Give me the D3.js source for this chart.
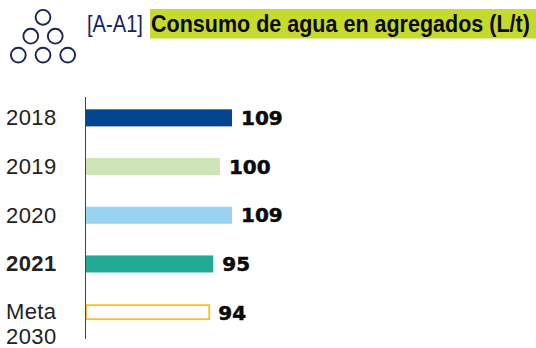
<!DOCTYPE html>
<html>
<head>
<meta charset="utf-8">
<script src="https://cdn.jsdelivr.net/npm/d3@7"></script>
<style>
  html, body { margin: 0; padding: 0; background: #fff; }
  svg { display: block; }
</style>
</head>
<body>
<div id="chart"></div>
<script>
var categories = ["2018", "2019", "2020", "2021", "Meta 2030"];
var values = [109, 100, 109, 95, 94];
// the target bar is drawn shorter in the picture than its 94 label
var barLengths = [109, 100, 109, 95, 92];
var barColors = ["#03468f", "#d0e5b7", "#9ad2f2", "#21ab97", "#ffffff"];
var titleCode = "[A-A1]";
var titleText = "Consumo de agua en agregados (L/t)";
var iconRows = [1, 2, 3];

var width = 536, height = 348;
var svg = d3.select("#chart").append("svg")
    .attr("width", width)
    .attr("height", height);

// squeeze a header text to the width it has in the picture
function fitWidth(sel, xPos, yPos, w) {
  var k = w / sel.node().getComputedTextLength();
  sel.attr("transform", "translate(" + xPos + "," + yPos + ") scale(" + k + ",1)");
}

// header icon
var navy = "#16245c";
iconRows.forEach(function (n, r) {
  d3.range(n).forEach(function (i) {
    svg.append("circle")
      .attr("cx", 43 + (i - (n - 1) / 2) * (r == 1 ? 24.5 : 24.7))
      .attr("cy", 17.3 + r * 18.9)
      .attr("r", 7.4)
      .attr("fill", "none")
      .attr("stroke", navy)
      .attr("stroke-width", 1.9);
  });
});

var code = svg.append("text")
  .attr("font-family", "'Liberation Sans'")
  .attr("font-size", 23)
  .attr("fill", navy)
  .text(titleCode);
fitWidth(code, 87, 32, 56);

svg.append("rect")
  .attr("x", 150).attr("y", 9)
  .attr("width", 386).attr("height", 29.5)
  .attr("fill", "#c6d92d");

var title = svg.append("text")
  .attr("font-family", "'Liberation Sans'")
  .attr("font-weight", "bold")
  .attr("font-size", 23)
  .attr("fill", "#0a0a0a")
  .text(titleText);
fitWidth(title, 151, 32, 379);

// bars
var x = d3.scaleLinear().domain([0, 109]).range([86, 232]);
var y = d3.scaleBand().domain(categories).range([93.5, 337]).paddingInner(0.65).paddingOuter(0.325);

var rows = svg.selectAll("g.row").data(categories).enter().append("g").attr("class", "row");

rows.append("rect")
  .attr("x", x(0))
  .attr("y", function (d) { return y(d); })
  .attr("width", function (d, i) { return x(barLengths[i]) - x(0); })
  .attr("height", y.bandwidth())
  .attr("fill", function (d, i) { return barColors[i]; })
  .each(function (d, i) {
    if (i == 4) {
      d3.select(this)
        .attr("stroke", "#fbbf24")
        .attr("stroke-width", 1.8)
        .attr("y", y(d) + 1)
        .attr("height", y.bandwidth() - 3);
    }
  });

rows.append("text")
  .attr("x", function (d, i) { return x(barLengths[i]) + 9; })
  .attr("y", function (d) { return y(d) + y.bandwidth() / 2 + 7; })
  .attr("font-family", "'DejaVu Sans'")
  .attr("font-weight", "bold")
  .attr("font-size", 20)
  .attr("stroke", "#0a0a0a")
  .attr("stroke-width", 0.5)
  .attr("fill", "#0a0a0a")
  .text(function (d, i) { return values[i]; });

rows.append("text")
  .attr("x", 6)
  .attr("y", function (d) { return y(d) + y.bandwidth() / 2 + 7.5; })
  .attr("font-family", "'Liberation Sans'")
  .attr("font-size", 22)
  .attr("letter-spacing", 0.4)
  .attr("font-weight", function (d) { return d == "2021" ? "bold" : "normal"; })
  .attr("fill", "#222")
  .each(function (d) {
    var parts = d.split(" ");
    var t = d3.select(this);
    if (parts.length == 1) { t.text(d); return; }
    t.attr("y", y(d) + y.bandwidth() / 2 + 6);
    parts.forEach(function (p, i) {
      t.append("tspan").attr("x", 6).attr("dy", i ? 25 : 0).text(p);
    });
  });

// vertical axis line
svg.append("line")
  .attr("x1", 85.5).attr("x2", 85.5)
  .attr("y1", 97).attr("y2", 339)
  .attr("stroke", "#444")
  .attr("stroke-width", 1);
</script>
</body>
</html>
